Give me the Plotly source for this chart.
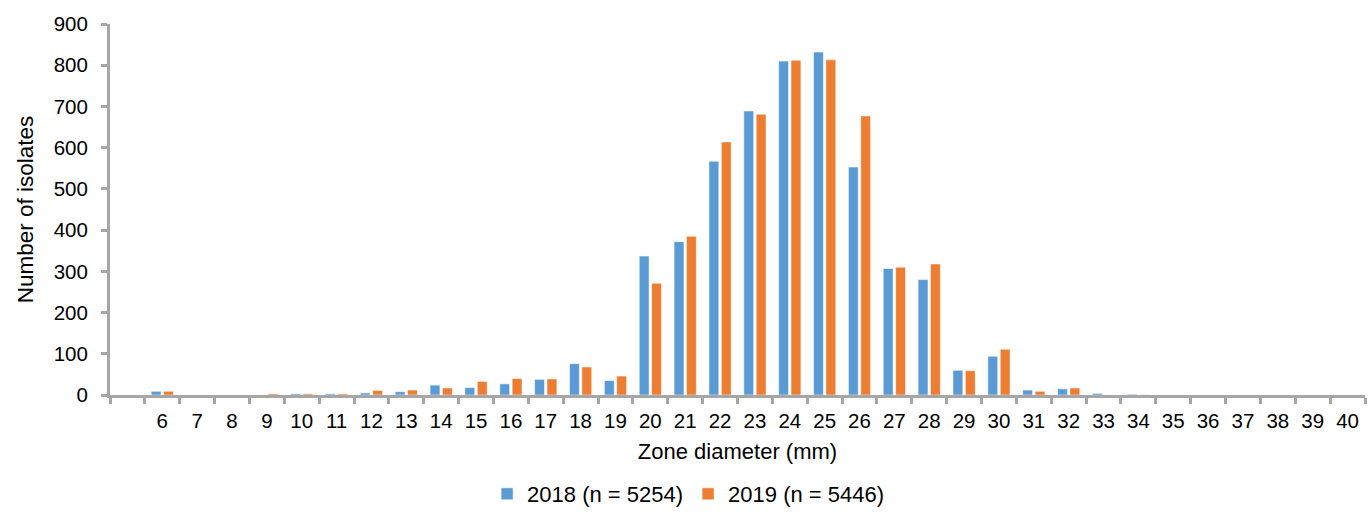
import plotly.graph_objects as go

# Zone diameter categories (mm)
zone_mm = list(range(6, 41))

# Isolate counts per zone diameter
counts_2018 = [9, 0, 0, 0, 3, 3, 5, 8, 24, 18, 27, 38, 76, 35, 337, 372, 567, 689,
               810, 832, 553, 307, 280, 60, 94, 12, 15, 4, 2, 0, 0, 0, 0, 0, 0]
counts_2019 = [9, 0, 0, 3, 3, 3, 11, 12, 17, 33, 40, 39, 68, 46, 271, 385, 614, 681,
               812, 813, 677, 310, 318, 59, 111, 9, 17, 0, 1, 0, 0, 0, 0, 0, 0]

series_names = ["2018 (n = 5254)", "2019 (n = 5446)"]
series_colors = ["#5B9BD5", "#ED7D31"]

axis_grey = "#A6A6A6"
font_family = "Liberation Sans, Arial, sans-serif"

fig = go.Figure()
for name, vals, col in zip(series_names, [counts_2018, counts_2019], series_colors):
    fig.add_trace(go.Bar(
        x=zone_mm, y=vals, name=name,
        marker=dict(color=col, line=dict(color="rgba(255,255,255,0.55)", width=1)),
    ))

# category boundaries for the tick marks (one empty slot before 6)
boundaries = [v + 0.5 for v in range(4, 41)]

fig.update_layout(
    width=1368, height=515,
    margin=dict(l=110, r=3, t=24, b=120, autoexpand=False),
    paper_bgcolor="white", plot_bgcolor="white",
    barmode="group", bargap=0.29, bargroupgap=0.2,
    font=dict(family=font_family, size=20, color="#000000"),
    showlegend=True,
    legend=dict(orientation="h", xref="container", x=0.503, xanchor="center",
                yref="container", y=-0.012, yanchor="bottom",
                font=dict(size=22), itemwidth=30, tracegroupgap=0),
    xaxis=dict(
        range=[4.5, 40.5], tickmode="array", tickvals=zone_mm,
        ticktext=[str(v) for v in zone_mm], ticks="",
        showline=True, linecolor=axis_grey, linewidth=3,
        showgrid=False, zeroline=False, ticklabelstandoff=5,
        tickfont=dict(size=20.5),
        minor=dict(tickmode="array", tickvals=boundaries, ticks="outside",
                   ticklen=6, tickwidth=3, tickcolor=axis_grey, showgrid=False),
        title=dict(text="Zone diameter (mm)", font=dict(size=22), standoff=14),
    ),
    yaxis=dict(
        range=[0, 900], dtick=100, tick0=0,
        showline=True, linecolor=axis_grey, linewidth=3,
        ticks="outside", ticklen=6, tickwidth=3, tickcolor=axis_grey,
        showgrid=False, zeroline=False, ticklabelstandoff=9,
        tickfont=dict(size=20.5),
        title=dict(text="Number of isolates", font=dict(size=22.5), standoff=14),
    ),
)

fig.write_html("out.html")
